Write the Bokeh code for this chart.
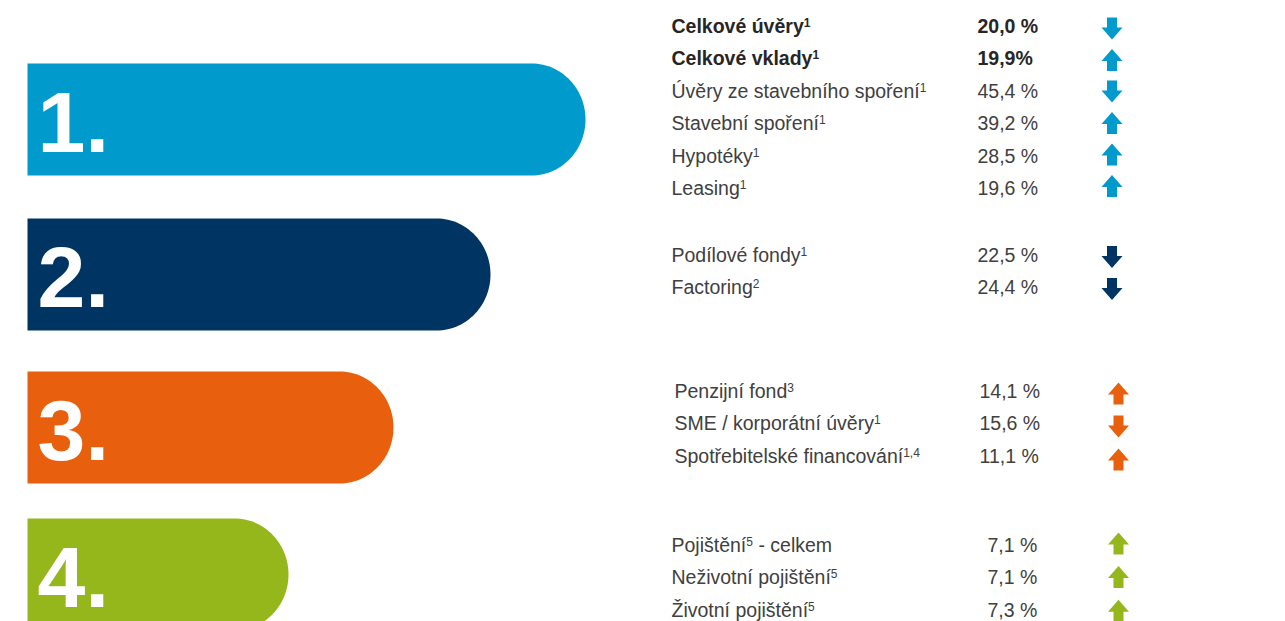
import numpy as np
from bokeh.plotting import figure
from bokeh.models import ColumnDataSource, Range1d
from bokeh.core.properties import value
from bokeh.embed import file_html
from bokeh.resources import INLINE

# ---------------- data ----------------
ranks = ["1.", "2.", "3.", "4."]
rank_colors = ["#009ACD", "#003462", "#E8600E", "#95B71C"]
bar_lengths = [558, 463, 366, 261]          # relative bar length (px of the infographic)

labels = ["Celkové úvěry", "Celkové vklady", "Úvěry ze stavebního spoření",
          "Stavební spoření", "Hypotéky", "Leasing",
          "Podílové fondy", "Factoring",
          "Penzijní fond", "SME / korporátní úvěry", "Spotřebitelské financování",
          "Pojištění", "Neživotní pojištění", "Životní pojištění"]
notes = ["1", "1", "1", "1", "1", "1",
         "1", "2",
         "3", "1", "1,4",
         "5", "5", "5"]
tails = [""] * 11 + ["- celkem", "", ""]
values = ["20,0 %", "19,9%", "45,4 %", "39,2 %", "28,5 %", "19,6 %",
          "22,5 %", "24,4 %",
          "14,1 %", "15,6 %", "11,1 %",
          "7,1 %", "7,1 %", "7,3 %"]
directions = ["down", "up", "down", "up", "up", "up",
              "down", "down",
              "up", "down", "up",
              "up", "up", "up"]
group_of = [0, 0, 0, 0, 0, 0, 1, 1, 2, 2, 2, 3, 3, 3]
bold = [True, True] + [False] * 12

# ---------------- layout ----------------
W, H = 1285, 621
bar_x0 = 27
bar_tops = [63, 218, 371, 518]
bar_h = 112
end_rx = 54

FS = 19.5          # row font size (px)
SUP = 12           # superscript font size
SUP_RISE = 6
RANK_FS = 86
BASE_SHIFT = 0.33  # bokeh alphabetic baseline correction (fraction of em)

group_base = [32, 261, 397, 551]
row_step = 32.4
label_x = [671, 671, 674, 671]
value_x = [977, 977, 979, 987]
arrow_x = [1111.5, 1111.5, 1118, 1118]
arrow_base = [28, 256.5, 393, 543]
arrow_step = [31.5, 32, 33, 33.6]

# Arial / Liberation Sans advance widths (1/1000 em)
REG = dict(zip(" abcdefghijklmnopqrstuvwxyz",
               [278, 556, 556, 500, 556, 556, 278, 556, 556, 222, 222, 500, 222, 833,
                556, 556, 556, 556, 333, 500, 278, 556, 500, 722, 500, 500, 500]))
REG.update(dict(zip("ABCDEFGHIJKLMNOPQRSTUVWXYZ",
                    [667, 667, 722, 722, 667, 611, 778, 722, 278, 500, 667, 556, 833,
                     722, 778, 667, 778, 722, 667, 611, 722, 667, 944, 667, 667, 611])))
REG.update({"/": 278, "-": 333, ",": 278, "%": 889, ".": 278})
REG.update({c: 556 for c in "0123456789"})
REG.update({"á": 556, "é": 556, "ě": 556, "í": 278, "ř": 333, "š": 500, "ž": 500,
            "ú": 556, "ý": 500, "Ú": 722, "Ž": 611})
BOLD = dict(zip(" abcdefghijklmnopqrstuvwxyz",
                [278, 556, 611, 556, 611, 556, 333, 611, 611, 278, 278, 556, 278, 889,
                 611, 611, 611, 611, 389, 556, 333, 611, 556, 778, 556, 556, 500]))
BOLD.update({"C": 722, "é": 556, "ě": 556, "ú": 611, "ý": 556, ",": 278})
BOLD.update({c: 556 for c in "0123456789"})


def tw(s, size, b=False):
    tab = BOLD if b else REG
    return sum(tab.get(c, 556) for c in s) / 1000.0 * size


def ty(baseline, size):
    return baseline - BASE_SHIFT * size


p = figure(width=W, height=H, output_backend="svg", toolbar_location=None,
           x_range=Range1d(0, W), y_range=Range1d(H, 0),
           min_border=0, outline_line_color=None)
p.axis.visible = False
p.grid.visible = False
p.background_fill_color = "white"
p.border_fill_color = "white"

# bars with rounded right end
xs, ys = [], []
for top, length in zip(bar_tops, bar_lengths):
    x1 = bar_x0 + length
    cy = top + bar_h / 2
    t = np.linspace(-np.pi / 2, np.pi / 2, 60)
    ex = (x1 - end_rx) + end_rx * np.cos(t)
    ey = cy + (bar_h / 2) * np.sin(t)
    xs.append([bar_x0] + list(ex) + [bar_x0])
    ys.append([top] + list(ey) + [top + bar_h])
p.patches(xs, ys, fill_color=rank_colors, line_color=None)

# rank numbers
rank_src = ColumnDataSource(dict(
    x=[37] * 4, y=[ty(t + bar_h / 2 + 31, RANK_FS) for t in bar_tops], text=ranks))
p.text("x", "y", text="text", source=rank_src, text_color="white",
       text_font=value("Liberation Sans"), text_font_style="bold",
       text_font_size=f"{RANK_FS}px", text_baseline="alphabetic", text_align="left")

# rows
counts = {}
row_y, arr_y = [], []
for g in group_of:
    i = counts.get(g, 0)
    counts[g] = i + 1
    row_y.append(group_base[g] + i * row_step)
    arr_y.append(arrow_base[g] + i * arrow_step[g])

main_x, sup_x, tail_x = [], [], []
for i in range(len(labels)):
    x0 = label_x[group_of[i]]
    w_main = tw(labels[i], FS, bold[i])
    main_x.append(x0)
    sup_x.append(x0 + w_main)
    tail_x.append(x0 + w_main + tw(notes[i], SUP, bold[i]) + tw(" ", FS, bold[i]))

for is_bold in (True, False):
    idx = [i for i in range(len(labels)) if bold[i] == is_bold]
    src = ColumnDataSource(dict(
        lx=[main_x[i] for i in idx],
        sx=[sup_x[i] for i in idx],
        tx=[tail_x[i] for i in idx],
        vx=[value_x[group_of[i]] for i in idx],
        y=[ty(row_y[i], FS) for i in idx],
        sy=[ty(row_y[i] - SUP_RISE, SUP) for i in idx],
        lab=[labels[i] for i in idx],
        note=[notes[i] for i in idx],
        tail=[tails[i] for i in idx],
        val=[values[i] for i in idx]))
    style = "bold" if is_bold else "normal"
    col = "#262626" if is_bold else "#404040"
    common = dict(source=src, text_color=col, text_font=value("Liberation Sans"),
                  text_baseline="alphabetic", text_font_style=style)
    p.text("lx", "y", text="lab", text_font_size=f"{FS}px", **common)
    p.text("sx", "sy", text="note", text_font_size=f"{SUP}px", **common)
    p.text("tx", "y", text="tail", text_font_size=f"{FS}px", **common)
    p.text("vx", "y", text="val", text_font_size=f"{FS}px", **common)

# arrows
aw, ah, hh, sw = 21, 22, 12, 10
axs, ays, acol = [], [], []
for i, d in enumerate(directions):
    g = group_of[i]
    cx = arrow_x[g]
    cy = arr_y[i]
    s = -1 if d == "up" else 1
    tip = cy + s * ah / 2
    neck = tip - s * hh
    tail = cy - s * ah / 2
    axs.append([cx, cx + aw / 2, cx + sw / 2, cx + sw / 2, cx - sw / 2, cx - sw / 2, cx - aw / 2])
    ays.append([tip, neck, neck, tail, tail, neck, neck])
    acol.append(rank_colors[g])
p.patches(axs, ays, fill_color=acol, line_color=None)

open("out.html", "w").write(file_html(p, INLINE))
